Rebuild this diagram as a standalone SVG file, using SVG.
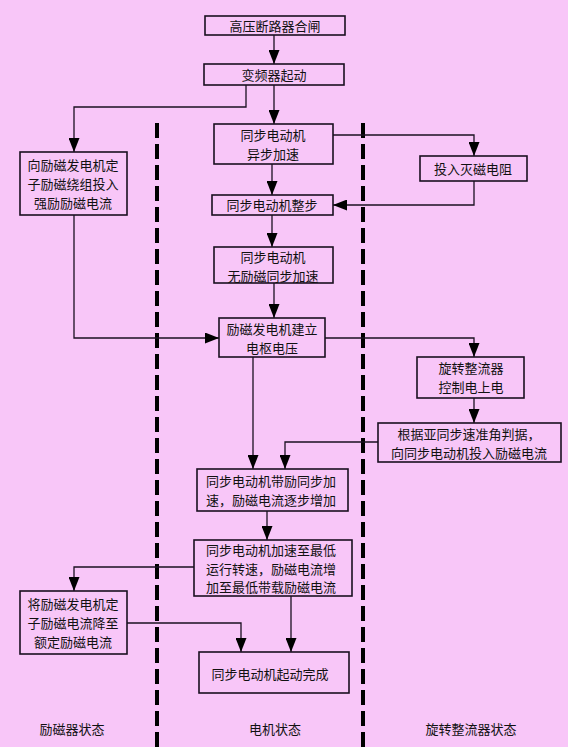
<svg xmlns="http://www.w3.org/2000/svg" width="568" height="747" viewBox="0 0 568 747">
<style>
.bx{fill:none;stroke:#1a1020;stroke-width:1.6}
.ln{fill:none;stroke:#1a1020;stroke-width:1.3}
.ar{marker-end:url(#ah)}
.dl{fill:none;stroke:#000;stroke-width:4;stroke-dasharray:15 6}
text{font-family:"Noto Sans CJK SC","Noto Sans CJK JP",sans-serif;font-size:13px;fill:#111;text-anchor:middle;dominant-baseline:central}
</style>
<defs>
<marker id="ah" markerUnits="userSpaceOnUse" markerWidth="14" markerHeight="11" refX="14" refY="5.5" orient="auto">
<path d="M0,0 L14,5.5 L0,11 z" fill="#000"/>
</marker>
</defs>
<rect x="0" y="0" width="568" height="747" fill="#F8C6F8"/>
<g id="lanes">
<line class="dl" x1="157" y1="123" x2="157" y2="747"/>
<line class="dl" x1="363" y1="123" x2="363" y2="747"/>
</g>
<g id="connectors">
<path class="ln ar" d="M274,35 V64"/>
<path class="ln ar" d="M274,85 V124"/>
<path class="ln ar" d="M246,85 V107 H74 V152"/>
<path class="ln ar" d="M272,164 V195"/>
<path class="ln ar" d="M333,135 H474 V156"/>
<path class="ln ar" d="M474,181 V205 H333"/>
<path class="ln ar" d="M272,215 V247"/>
<path class="ln ar" d="M274,283 V318"/>
<path class="ln ar" d="M74,215 V338 H219"/>
<path class="ln ar" d="M325,338 H474 V357"/>
<path class="ln ar" d="M474,398 V423"/>
<path class="ln ar" d="M378,442 H285 V469"/>
<path class="ln ar" d="M253,357 V469"/>
<path class="ln ar" d="M267,511 V540"/>
<path class="ln ar" d="M194,567 H74 V591"/>
<path class="ln ar" d="M127,623 H241 V652"/>
<path class="ln ar" d="M291,596 V652"/>
</g>
<g id="n1"><rect class="bx" x="205" y="16" width="140" height="19"/><text x="275" y="25.5">高压断路器合闸</text></g>
<g id="n2"><rect class="bx" x="204" y="64" width="140" height="21"/><text x="274" y="74.5">变频器起动</text></g>
<g id="n3"><rect class="bx" x="20" y="152" width="107" height="63"/><text x="73" y="164">向励磁发电机定</text><text x="73" y="183">子励磁绕组投入</text><text x="73" y="202">强励励磁电流</text></g>
<g id="n4"><rect class="bx" x="214" y="124" width="119" height="40"/><text x="273" y="134.5">同步电动机</text><text x="273" y="153.5">异步加速</text></g>
<g id="n5"><rect class="bx" x="420" y="156" width="107" height="25"/><text x="473" y="168.5">投入灭磁电阻</text></g>
<g id="n6"><rect class="bx" x="212" y="195" width="121" height="20"/><text x="272" y="204.5">同步电动机整步</text></g>
<g id="n7"><rect class="bx" x="214" y="247" width="119" height="36"/><text x="273" y="256">同步电动机</text><text x="273" y="275">无励磁同步加速</text></g>
<g id="n8"><rect class="bx" x="219" y="318" width="106" height="39"/><text x="272" y="328">励磁发电机建立</text><text x="272" y="347">电枢电压</text></g>
<g id="n9"><rect class="bx" x="417" y="357" width="107" height="41"/><text x="471" y="367">旋转整流器</text><text x="471" y="386">控制电上电</text></g>
<g id="n10"><rect class="bx" x="378" y="423" width="183" height="39"/><text x="469" y="433">根据亚同步速准角判据，</text><text x="469" y="452">向同步电动机投入励磁电流</text></g>
<g id="n11"><rect class="bx" x="197" y="469" width="151" height="42"/><text x="271" y="480">同步电动机带励同步加</text><text x="271" y="499">速，励磁电流逐步增加</text></g>
<g id="n12"><rect class="bx" x="194" y="540" width="158" height="56"/><text x="271" y="549.5">同步电动机加速至最低</text><text x="271" y="568">运行转速，励磁电流增</text><text x="271" y="586.5">加至最低带载励磁电流</text></g>
<g id="n13"><rect class="bx" x="20" y="591" width="107" height="63"/><text x="73" y="603">将励磁发电机定</text><text x="73" y="622">子励磁电流降至</text><text x="73" y="641">额定励磁电流</text></g>
<g id="n14"><rect class="bx" x="199" y="652" width="150" height="41"/><text x="270" y="673">同步电动机起动完成</text></g>
<g id="labels">
<text x="72" y="728">励磁器状态</text>
<text x="275" y="728">电机状态</text>
<text x="471" y="728">旋转整流器状态</text>
</g>
</svg>
